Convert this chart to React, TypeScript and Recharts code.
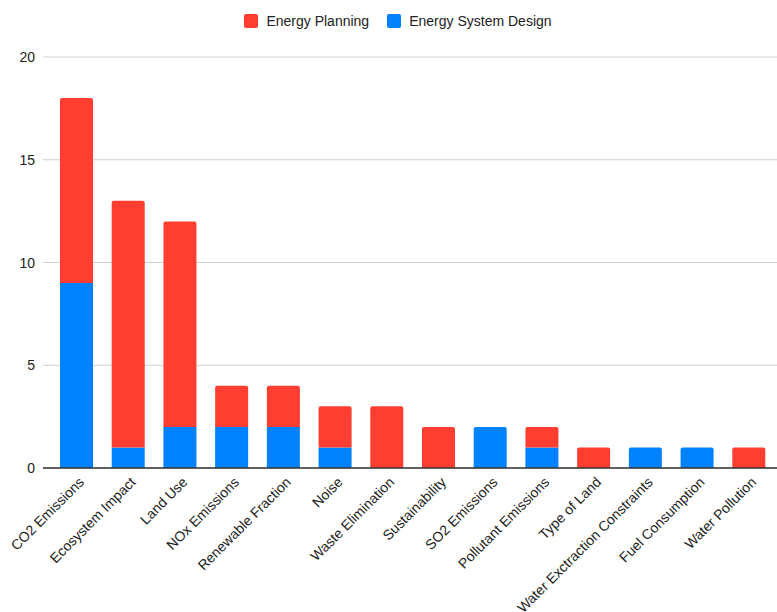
import React from "react";
import { BarChart, Bar, XAxis, YAxis, CartesianGrid, Legend } from "recharts";

const categories = [
  "CO2 Emissions",
  "Ecosystem Impact",
  "Land Use",
  "NOx Emissions",
  "Renewable Fraction",
  "Noise",
  "Waste Elimination",
  "Sustainability",
  "SO2 Emissions",
  "Pollutant Emissions",
  "Type of Land",
  "Water Exctraction Constraints",
  "Fuel Consumption",
  "Water Pollution",
];
const systemDesign = [9, 1, 2, 2, 2, 1, 0, 0, 2, 1, 0, 1, 1, 0];
const planning = [9, 12, 10, 2, 2, 2, 3, 2, 0, 1, 1, 0, 0, 1];
const yTicks = [0, 5, 10, 15, 20];

const RED = "#ff3d30";
const BLUE = "#0082ff";
const FONT = "'Liberation Sans', Arial, sans-serif";

const data = categories.map((name, i) => ({
  name,
  design: systemDesign[i],
  planning: planning[i],
}));

const legendItems = [
  { label: "Energy Planning", color: RED },
  { label: "Energy System Design", color: BLUE },
];

// rounds the top corners only on the uppermost segment of a stack
function TopRounded(props: any) {
  const { x, y, width, height, fill, payload, dataKey } = props;
  if (!height || height <= 0) return null;
  const isTop = dataKey === "planning" || !payload.planning;
  const r = isTop ? Math.min(2, height) : 0;
  const d = `M${x},${y + height} L${x},${y + r} Q${x},${y} ${x + r},${y} L${x + width - r},${y} Q${x + width},${y} ${x + width},${y + r} L${x + width},${y + height} Z`;
  return <path d={d} fill={fill} />;
}

function AngledTick({ x, y, payload }: any) {
  return (
    <g transform={`translate(${x + 8},${y + 15})`}>
      <text textAnchor="end" transform="rotate(-45)" fontSize={14} fill="#222" fontFamily={FONT}>
        {payload.value}
      </text>
    </g>
  );
}

function ValueTick({ x, y, payload }: any) {
  return (
    <text x={x - 8} y={y} dy={5} textAnchor="end" fontSize={14} fill="#222" fontFamily={FONT}>
      {payload.value}
    </text>
  );
}

function LegendContent() {
  return (
    <div
      style={{
        height: 52,
        display: "flex",
        justifyContent: "center",
        alignItems: "flex-start",
        paddingLeft: 19,
        paddingTop: 8,
        boxSizing: "border-box",
        fontFamily: FONT,
        fontSize: 14,
        color: "#222",
      }}
    >
      {legendItems.map((it, i) => (
        <div key={it.label} style={{ display: "flex", alignItems: "center", marginLeft: i ? 18 : 0 }}>
          <span style={{ width: 14, height: 14, borderRadius: 2, background: it.color, marginRight: 8 }} />
          <span>{it.label}</span>
        </div>
      ))}
    </div>
  );
}

export default function App() {
  return (
    <div style={{ width: 777, height: 612, background: "#fff" }}>
      <style>{`body{margin:0}`}</style>
      <BarChart width={777} height={612} data={data} margin={{ top: 5, right: 0, bottom: 0, left: 0 }}>
        <CartesianGrid vertical={false} stroke="#d0d0d0" />
        <Legend verticalAlign="top" align="center" content={<LegendContent />} />
        <XAxis
          dataKey="name"
          interval={0}
          height={144}
          padding={{ left: 8, right: 2 }}
          tickLine={false}
          tickSize={0}
          tickMargin={0}
          stroke="#333"
          strokeWidth={1.5}
          tick={<AngledTick />}
        />
        <YAxis
          width={43}
          domain={[0, 20]}
          ticks={yTicks}
          axisLine={false}
          tickLine={false}
          tickSize={0}
          tickMargin={0}
          tick={<ValueTick />}
        />
        <Bar dataKey="design" stackId="a" fill={BLUE} barSize={33} shape={<TopRounded />} isAnimationActive={false} />
        <Bar dataKey="planning" stackId="a" fill={RED} barSize={33} shape={<TopRounded />} isAnimationActive={false} />
      </BarChart>
    </div>
  );
}
